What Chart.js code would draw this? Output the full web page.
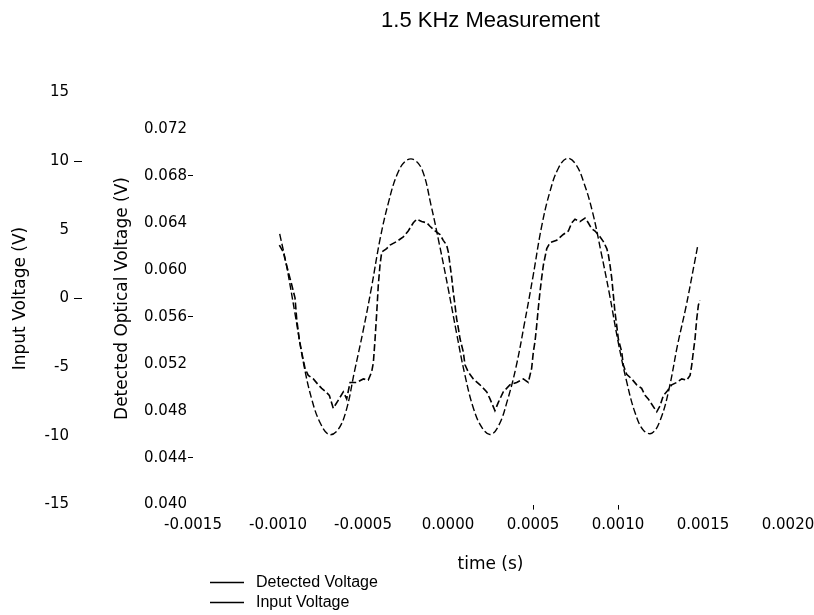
<!DOCTYPE html>
<html>
<head>
<meta charset="utf-8">
<title>1.5 KHz Measurement</title>
<script src="https://cdn.jsdelivr.net/npm/chart.js@4.4.0/dist/chart.umd.min.js"></script>
<style>
  body { margin: 0; background: #fff; }
  #chart { display: block; background: #fff; }
</style>
</head>
<body>
<canvas id="chart" width="814" height="615"></canvas>
<script>
// input voltage (V) against time (s)
const inputTime = [-0.00099, -0.00095, -0.00090, -0.00085, -0.00080, -0.00075, -0.00070, -0.00065,
  -0.00060, -0.00055, -0.00050, -0.00045, -0.00040, -0.00035, -0.00030, -0.00025, -0.00020,
  -0.00015, -0.00010, -0.00005, 0, 0.00005, 0.00010, 0.00015, 0.00020, 0.00025, 0.00030,
  0.00035, 0.00040, 0.00045, 0.00050, 0.00055, 0.00060, 0.00065, 0.00070, 0.00075, 0.00080,
  0.00085, 0.00090, 0.00095, 0.00100, 0.00105, 0.00110, 0.00115, 0.00120, 0.00125, 0.00130,
  0.00135, 0.00140, 0.00145, 0.00147];
const inputVolts = [4.7, 2.4, -1.1, -4.7, -7.4, -9.1, -9.9, -9.6,
  -8.2, -5.3, -2.4, 0.8, 4.3, 7.0, 9.0, 10.0, 10.1,
  9.3, 6.8, 3.9, 0.8, -2.5, -5.6, -8.0, -9.4, -9.9, -9.2,
  -7.4, -5.0, -1.8, 1.6, 5.2, 7.8, 9.5, 10.2, 9.8, 8.4,
  6.3, 3.4, 0.3, -3.1, -6.0, -8.3, -9.6, -9.8, -8.8, -6.6,
  -3.4, -0.6, 2.6, 3.9];

// detected optical voltage (V) against time (s)
const detTime = [-0.000992, -0.000969, -0.000939, -0.000919, -0.000900, -0.000890, -0.000875,
  -0.000861, -0.000841, -0.000822, -0.000792, -0.000763, -0.000743, -0.000718, -0.000698,
  -0.000675, -0.000645, -0.000616, -0.000596, -0.000576, -0.000537, -0.000498, -0.000469,
  -0.000449, -0.000439, -0.000429, -0.000419, -0.000410, -0.000400, -0.000390, -0.000361,
  -0.000341, -0.000302, -0.000263, -0.000234, -0.000204, -0.000184, -0.000155, -0.000125,
  -0.000106, -0.000076, -0.000047, -0.000028, -0.000008, 0.000002, 0.000012, 0.000022,
  0.000031, 0.000041, 0.000051, 0.000061, 0.000071, 0.000090, 0.000100, 0.000119, 0.000149,
  0.000188, 0.000228, 0.000247, 0.000276, 0.000296, 0.000325, 0.000365, 0.000404, 0.000443,
  0.000472, 0.000492, 0.000502, 0.000512, 0.000522, 0.000531, 0.000541, 0.000551, 0.000561,
  0.000581, 0.000600, 0.000639, 0.000678, 0.000708, 0.000728, 0.000747, 0.000776, 0.000806,
  0.000825, 0.000845, 0.000865, 0.000894, 0.000914, 0.000934, 0.000943, 0.000953, 0.000963,
  0.000973, 0.000982, 0.000992, 0.001002, 0.001022, 0.001031, 0.001051, 0.001081, 0.001110,
  0.001139, 0.001159, 0.001178, 0.001228, 0.001247, 0.001267, 0.001286, 0.001316, 0.001345,
  0.001375, 0.001404, 0.001424, 0.001434, 0.001443, 0.001453, 0.001463, 0.001473, 0.001482];
const detVolts = [0.0621, 0.0615, 0.0598, 0.0587, 0.0576, 0.0558, 0.0541,
  0.0530, 0.0516, 0.0510, 0.0507, 0.0502, 0.0499, 0.0496, 0.0493,
  0.0482, 0.0489, 0.0496, 0.0490, 0.0504, 0.0504, 0.0507, 0.0506,
  0.0513, 0.0521, 0.0541, 0.0564, 0.0587, 0.0604, 0.0615, 0.0618,
  0.0621, 0.0624, 0.0628, 0.0633, 0.0640, 0.0643, 0.0641, 0.0640,
  0.0637, 0.0633, 0.0630, 0.0625, 0.0621, 0.0615, 0.0604, 0.0593,
  0.0581, 0.0570, 0.0558, 0.0550, 0.0541, 0.0530, 0.0519, 0.0513, 0.0507,
  0.0502, 0.0496, 0.0490, 0.0480, 0.0487, 0.0496, 0.0502, 0.0504, 0.0507,
  0.0504, 0.0516, 0.0530, 0.0539, 0.0553, 0.0567, 0.0581, 0.0593, 0.0604,
  0.0618, 0.0623, 0.0625, 0.0630, 0.0633, 0.0640, 0.0643, 0.0641, 0.0644,
  0.0640, 0.0635, 0.0633, 0.0628, 0.0624, 0.0618, 0.0613, 0.0604, 0.0593,
  0.0578, 0.0564, 0.0553, 0.0541, 0.0530, 0.0519, 0.0511, 0.0507, 0.0502,
  0.0499, 0.0493, 0.0490, 0.0479, 0.0484, 0.0493, 0.0496, 0.0502, 0.0504,
  0.0507, 0.0506, 0.0510, 0.0519, 0.0530, 0.0541, 0.0558, 0.0570, 0.0574];

const timeTicks = [-0.0015, -0.0010, -0.0005, 0, 0.0005, 0.0010, 0.0015, 0.0020];
const inputTicks = [-15, -10, -5, 0, 5, 10, 15];
const detTicks = [0.040, 0.044, 0.048, 0.052, 0.056, 0.060, 0.064, 0.068, 0.072];

const WIDE = '"DejaVu Sans", Verdana, sans-serif';
const SANS = '"Liberation Sans", Arial, sans-serif';
Chart.defaults.font.family = WIDE;
Chart.defaults.color = '#000';

const pairs = (xs, ys) => xs.map((x, i) => ({ x: x, y: ys[i] }));
const near = (a, list) => list.some(v => Math.abs(a - v) < 1e-9);
const hidden = 'rgba(0,0,0,0)';

// legend drawn as a plain list under the axis title
const bottomLegend = {
  id: 'bottomLegend',
  afterDraw(chart) {
    const ctx = chart.ctx;
    const left = chart.chartArea.left + 17;
    let y = chart.chartArea.bottom + 78;
    ctx.save();
    ctx.font = '16px ' + SANS;
    ctx.textBaseline = 'middle';
    ctx.fillStyle = '#000';
    ctx.strokeStyle = '#000';
    ctx.lineWidth = 1.5;
    chart.data.datasets.forEach(ds => {
      ctx.beginPath();
      ctx.moveTo(left, y);
      ctx.lineTo(left + 34, y);
      ctx.stroke();
      ctx.fillText(ds.label, left + 46, y);
      y += 20;
    });
    ctx.restore();
  }
};

new Chart(document.getElementById('chart'), {
  type: 'line',
  data: {
    datasets: [{
      label: 'Detected Voltage',
      data: pairs(detTime, detVolts),
      yAxisID: 'yDet',
      borderColor: '#000',
      borderWidth: 1.6,
      borderDash: [7, 3],
      pointRadius: 0,
      tension: 0
    }, {
      label: 'Input Voltage',
      data: pairs(inputTime, inputVolts),
      yAxisID: 'yInput',
      borderColor: '#000',
      borderWidth: 1.4,
      borderDash: [7, 3],
      pointRadius: 0,
      tension: 0.4
    }]
  },
  options: {
    responsive: false,
    animation: false,
    layout: { padding: { left: 0, right: 26, top: 0, bottom: 40 } },
    plugins: {
      legend: { display: false },
      tooltip: { enabled: false },
      title: {
        display: true,
        fullSize: false,
        text: '1.5 KHz Measurement',
        font: { family: SANS, size: 22, weight: 'normal' },
        padding: { top: 8, bottom: 58 }
      }
    },
    scales: {
      x: {
        type: 'linear',
        min: -0.0015,
        max: 0.0020,
        afterBuildTicks: s => { s.ticks = timeTicks.map(v => ({ value: v })); },
        afterFit: s => { s.paddingLeft = 0; s.paddingRight = 0; },
        ticks: {
          autoSkip: false,
          maxRotation: 0,
          padding: 7,
          font: { size: 15 },
          callback: v => (Math.abs(v) < 1e-12 ? 0 : v).toFixed(4)
        },
        grid: {
          drawOnChartArea: false,
          tickLength: 5,
          tickColor: c => (c.tick && near(c.tick.value, [0.0005, 0.0010])) ? '#000' : hidden
        },
        border: { display: false },
        title: { display: true, text: 'time (s)', font: { size: 17 }, padding: { top: 13, bottom: 0 } }
      },
      yInput: {
        position: 'left',
        weight: 2,
        min: -15,
        max: 15,
        afterBuildTicks: s => { s.ticks = inputTicks.map(v => ({ value: v })); },
        afterFit: s => { s.width = 82; },
        ticks: { padding: 5, font: { size: 15 }, callback: v => String(v) },
        grid: {
          drawOnChartArea: false,
          tickLength: 8,
          tickColor: c => (c.tick && near(c.tick.value, [0, 10])) ? '#000' : hidden
        },
        border: { display: false },
        title: { display: true, text: 'Input Voltage (V)', font: { size: 17 }, padding: { top: 10, bottom: 0 } }
      },
      yDet: {
        position: 'left',
        weight: 1,
        min: 0.040,
        max: 0.0751,
        afterBuildTicks: s => { s.ticks = detTicks.map(v => ({ value: v })); },
        afterFit: s => { s.width = 111; },
        ticks: { padding: 1, font: { size: 15 }, callback: v => v.toFixed(3) },
        grid: {
          drawOnChartArea: false,
          tickLength: 5,
          tickColor: c => (c.tick && near(c.tick.value, [0.044, 0.056, 0.068])) ? '#000' : hidden
        },
        border: { display: false },
        title: { display: true, text: 'Detected Optical Voltage (V)', font: { size: 17 }, padding: { top: 30, bottom: 0 } }
      }
    }
  },
  plugins: [bottomLegend]
});
</script>
</body>
</html>
